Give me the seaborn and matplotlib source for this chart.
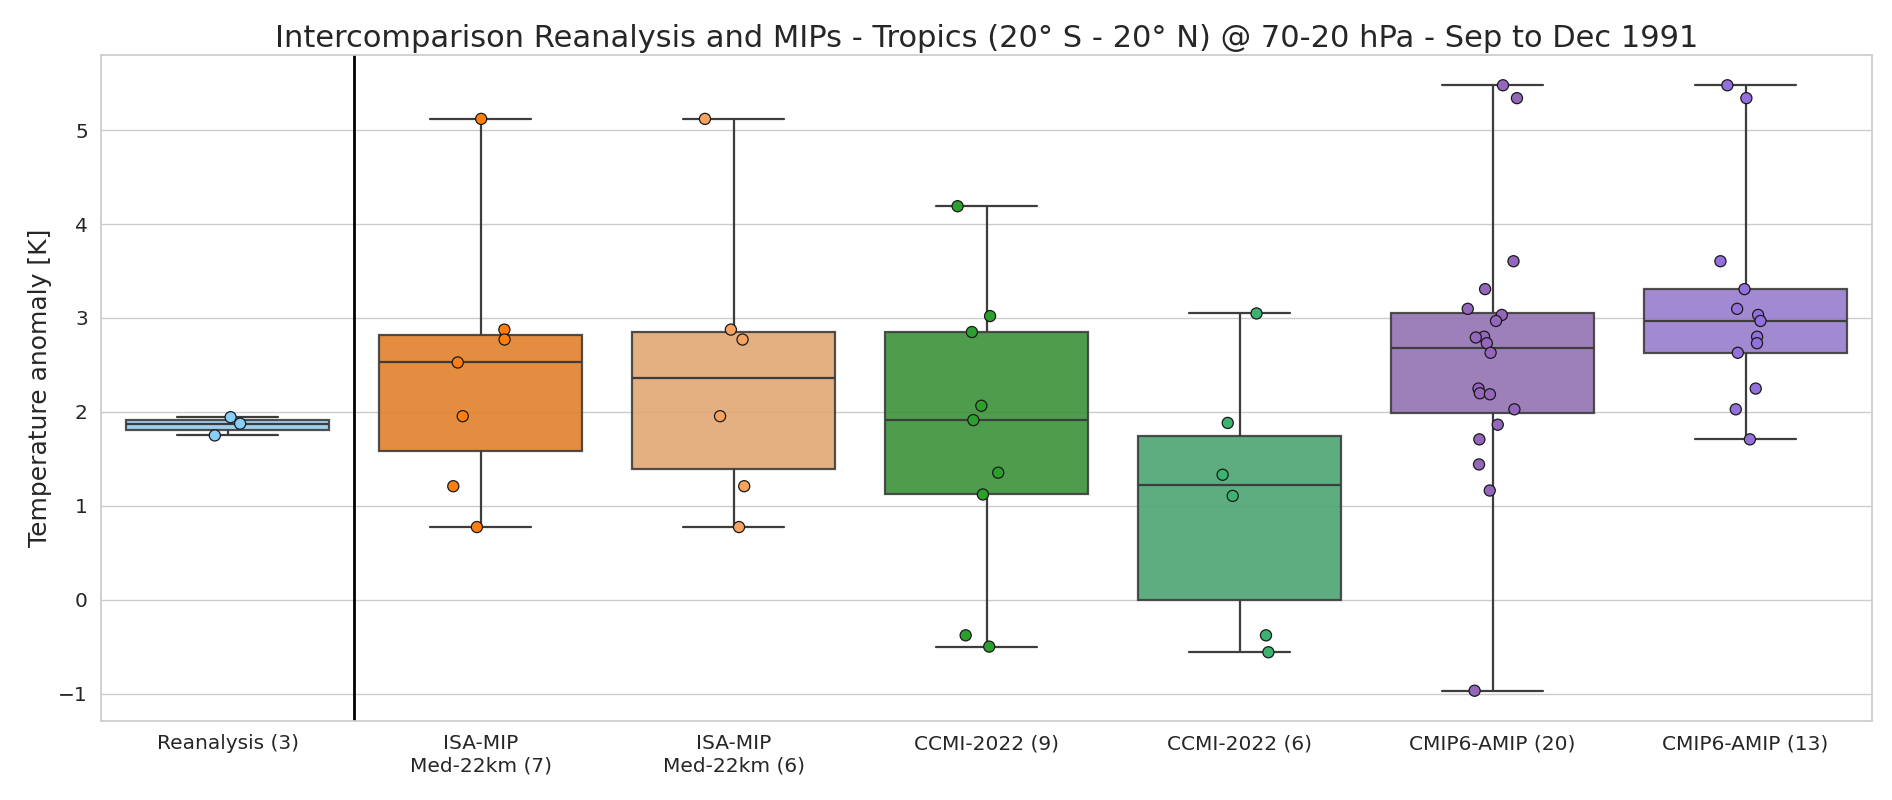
import numpy as np
import pandas as pd
import matplotlib
matplotlib.use("Agg")
import matplotlib.pyplot as plt
import seaborn as sns

# ---- data ----
categories = [
    "Reanalysis (3)",
    "ISA-MIP\nMed-22km (7)",
    "ISA-MIP\nMed-22km (6)",
    "CCMI-2022 (9)",
    "CCMI-2022 (6)",
    "CMIP6-AMIP (20)",
    "CMIP6-AMIP (13)",
]
reanalysis = [1.943, 1.874, 1.749]
isamip_7 = [5.12, 2.876, 2.77, 2.526, 1.954, 1.208, 0.773]
isamip_6 = [5.12, 2.876, 2.77, 1.954, 1.208, 0.773]
ccmi_9 = [4.19, 3.02, 2.85, 2.065, 1.912, 1.352, 1.12, -0.38, -0.50]
ccmi_6 = [3.048, 1.882, 1.33, 1.105, -0.38, -0.56]
cmip6_20 = [5.478, 5.341, 3.604, 3.307, 3.097, 3.032, 2.968, 2.80, 2.792, 2.731,
            2.629, 2.248, 2.198, 2.187, 2.027, 1.863, 1.707, 1.44, 1.162, -0.97]
cmip6_13 = [5.478, 5.341, 3.604, 3.307, 3.097, 3.032, 2.968, 2.80, 2.731, 2.629,
            2.248, 2.027, 1.707]

series = [reanalysis, isamip_7, isamip_6, ccmi_9, ccmi_6, cmip6_20, cmip6_13]
colors = ["lightskyblue", "#ff7f0e", "sandybrown", "#2ca02c",
          "mediumseagreen", "#9467bd", "mediumpurple"]

df = pd.DataFrame({
    "group": np.concatenate([[c] * len(v) for c, v in zip(categories, series)]),
    "value": np.concatenate([np.asarray(v, float) for v in series]),
})
pal = dict(zip(categories, colors))

sns.set_theme(style="whitegrid")
plt.rcParams["font.family"] = ["DejaVu Sans"]

fig, ax = plt.subplots(figsize=(18.92, 8), dpi=100)
fig.subplots_adjust(left=101 / 1892, right=1872 / 1892,
                    top=1 - 55 / 800, bottom=1 - 721 / 800)

sns.boxplot(data=df, x="group", y="value", hue="group", order=categories,
            hue_order=categories, palette=pal, whis=[0, 100], showfliers=False,
            linewidth=1.6, boxprops=dict(alpha=0.9), legend=False, ax=ax)

np.random.seed(3)
sns.stripplot(data=df, x="group", y="value", hue="group", order=categories,
              hue_order=categories, palette=pal, jitter=0.12, size=8,
              edgecolor="0.1", linewidth=0.9, legend=False, ax=ax, zorder=5)

ax.axvline(0.5, color="black", lw=2)

ax.set_title("Intercomparison Reanalysis and MIPs - Tropics (20° S - 20° N) @ 70-20 hPa - Sep to Dec 1991",
             fontsize=22)
ax.set_ylabel("Temperature anomaly [K]", fontsize=18)
ax.set_xlabel("")
ax.tick_params(axis="both", labelsize=14.5)

fig.savefig("out.png", dpi=100)
